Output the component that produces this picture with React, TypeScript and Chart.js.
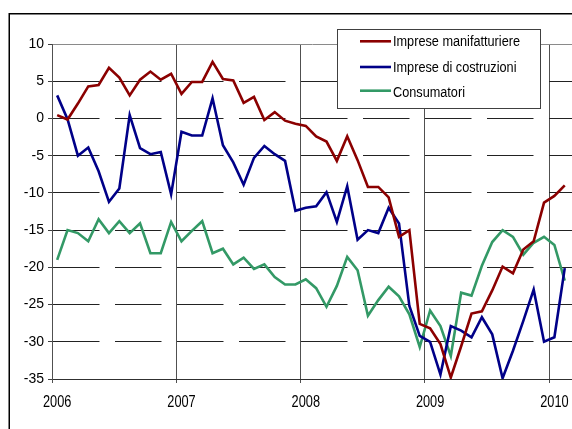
import { useEffect, useRef } from 'react';
import { Chart, registerables } from 'chart.js';

Chart.register(...registerables);

// ---- data ----
const yearLabels = ['2006', '2007', '2008', '2009', '2010'];
const seriesNames = ['Imprese manifatturiere', 'Imprese di costruzioni', 'Consumatori'];
const yTicks = [10, 5, 0, -5, -10, -15, -20, -25, -30, -35];

// monthly values, Jan 2006 .. Feb 2010
const manifatturiere = [
  0.45, -0.15, 2.0, 4.3, 4.5, 6.8, 5.5, 3.1, 5.2, 6.3, 5.2, 6.0,
  3.3, 4.9, 4.9, 7.6, 5.3, 5.1, 2.1, 2.9, -0.2, 0.85, -0.3, -0.7,
  -1.0, -2.4, -3.1, -5.7, -2.4, -5.6, -9.2, -9.2, -10.6, -15.9, -15.0, -27.6,
  -28.2, -30.3, -34.8, -30.6, -26.2, -25.9, -23.1, -19.9, -20.8, -17.6, -16.5, -11.3,
  -10.4, -9.0,
];
const costruzioni = [
  3.1, -0.1, -5.0, -3.9, -7.1, -11.2, -9.4, 0.45, -4.0, -4.8, -4.5, -10.2,
  -1.8, -2.3, -2.3, 2.7, -3.6, -5.9, -8.9, -5.3, -3.7, -4.8, -5.7, -12.4,
  -12.0, -11.8, -9.9, -13.9, -9.1, -16.3, -15.0, -15.4, -12.0, -14.1, -25.2, -29.2,
  -30.0, -34.4, -27.9, -28.5, -29.4, -26.7, -29.0, -34.9, -31.2, -27.2, -23.0, -30.0,
  -29.4, -20.1,
];
const consumatori = [
  -19.0, -15.0, -15.4, -16.5, -13.55, -15.4, -13.8, -15.4, -14.1, -18.1, -18.1, -13.9,
  -16.5, -15.1, -13.8, -18.1, -17.5, -19.6, -18.7, -20.2, -19.6, -21.3, -22.3, -22.3,
  -21.6, -22.8, -25.3, -22.5, -18.6, -20.4, -26.5, -24.4, -22.6, -23.9, -26.3, -30.7,
  -25.8, -27.9, -31.9, -23.4, -23.8, -19.8, -16.6, -15.0, -15.9, -18.3, -16.7, -15.9,
  -17.0, -21.8,
];

const colors = ['#8B0000', '#000088', '#339966'];
const allSeries = [manifatturiere, costruzioni, consumatori];

const W = 572;
const H = 429;

export default function App() {
  const ref = useRef<HTMLCanvasElement | null>(null);

  useEffect(() => {
    if (!ref.current) return;

    const framePlugin = {
      id: 'framePlugin',
      beforeDraw(chart: any) {
        const ctx = chart.ctx;
        ctx.save();
        ctx.fillStyle = '#ffffff';
        ctx.fillRect(0, 0, chart.width, chart.height);
        ctx.strokeStyle = '#000000';
        ctx.lineWidth = 1.5;
        ctx.strokeRect(9.25, 13.75, 900, 900);
        ctx.restore();
      },
      afterDraw(chart: any) {
        const ctx = chart.ctx;
        ctx.save();
        // condensed x-axis year labels (drawn at the x scale's tick positions)
        const xs = chart.scales.x;
        ctx.font = '17px "Liberation Sans", Arial, sans-serif';
        ctx.fillStyle = '#000000';
        ctx.textAlign = 'center';
        ctx.textBaseline = 'alphabetic';
        xs.ticks.forEach((t: any) => {
          const label = yearLabels[Math.round(t.value / 12)];
          const px = xs.getPixelForValue(t.value + 0.5);
          ctx.save();
          ctx.translate(px, 407);
          ctx.scale(0.75, 1);
          ctx.fillText(label, 0, 0);
          ctx.restore();
        });

        // legend box
        ctx.fillStyle = '#ffffff';
        ctx.fillRect(337.5, 29.5, 203, 79);
        ctx.strokeStyle = '#404040';
        ctx.lineWidth = 1;
        ctx.strokeRect(337.5, 29.5, 203, 79);
        const rows = [41.3, 67, 90.7];
        const baselines = [46, 72, 96.5];
        ctx.font = '15.5px "Liberation Sans", Arial, sans-serif';
        ctx.textBaseline = 'alphabetic';
        ctx.textAlign = 'left';
        const sx = 127 / ctx.measureText(seriesNames[0]).width;
        seriesNames.forEach((name, k) => {
          ctx.strokeStyle = colors[k];
          ctx.lineWidth = 2.6;
          ctx.beginPath();
          ctx.moveTo(360, rows[k]);
          ctx.lineTo(391, rows[k]);
          ctx.stroke();
          ctx.fillStyle = '#000000';
          ctx.save();
          ctx.translate(393, baselines[k]);
          ctx.scale(sx, 1);
          ctx.fillText(name, 0, 0);
          ctx.restore();
        });
        ctx.restore();
      },
    };

    const chart = new Chart(ref.current, {
      type: 'line',
      data: {
        datasets: allSeries.map((vals, k) => ({
          label: seriesNames[k],
          data: vals.map((v, i) => ({ x: i + 0.5, y: v })),
          borderColor: colors[k],
          backgroundColor: colors[k],
          borderWidth: 2.6,
          pointRadius: 0,
          tension: 0,
          fill: false,
        })),
      },
      options: {
        animation: false,
        responsive: false,
        maintainAspectRatio: false,
        layout: { padding: { top: 44, left: 0, right: 0, bottom: 0 } },
        plugins: {
          legend: { display: false },
          tooltip: { enabled: false },
          title: { display: false },
        },
        scales: {
          x: {
            type: 'linear',
            min: 0,
            max: 50.2,
            afterBuildTicks: (s: any) => {
              s.ticks = yearLabels.map((_, k) => ({ value: k * 12 }));
            },
            afterFit: (s: any) => {
              s.height = 50;
            },
            ticks: {
              display: false,
            },
            grid: {
              color: '#505050',
              lineWidth: 1,
              tickLength: 4,
              tickColor: '#505050',
            },
            border: { display: true, color: '#303030', width: 1 },
          },
          y: {
            type: 'linear',
            min: -35,
            max: 10,
            afterBuildTicks: (s: any) => {
              s.ticks = yTicks.map((v) => ({ value: v }));
            },
            afterFit: (s: any) => {
              s.width = 52;
            },
            ticks: {
              padding: 4,
              color: '#000000',
              font: { family: '"Liberation Sans", Arial, sans-serif', size: 14 },
            },
            grid: {
              color: (c: any) => (c.tick && c.tick.value === 10 ? '#8a8a8a' : '#222222'),
              lineWidth: 1,
              tickLength: 4,
              tickColor: '#404040',
            },
            border: {
              display: true,
              color: '#505050',
              width: 1,
              dash: (c: any) => (c.tick && c.tick.value === 10 ? [] : [46.5, 15.5]),
            },
          },
        },
      },
      plugins: [framePlugin],
    });

    return () => chart.destroy();
  }, []);

  return (
    <div style={{ position: 'fixed', left: 0, top: 0, width: W, height: H, background: '#fff', overflow: 'hidden' }}>
      <canvas ref={ref} width={W} height={H} style={{ display: 'block', width: W, height: H }} />
    </div>
  );
}
